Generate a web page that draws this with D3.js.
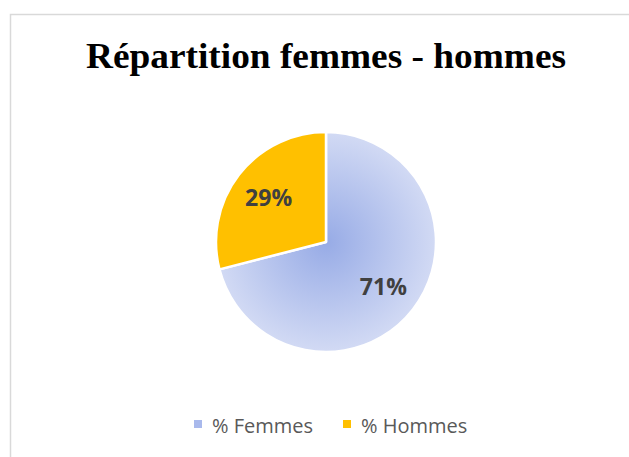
<!DOCTYPE html>
<html>
<head>
<meta charset="utf-8">
<script src="https://cdn.jsdelivr.net/npm/d3@7"></script>
<style>
  body { margin: 0; background: #fff; }
  svg { display: block; }
</style>
</head>
<body>
<div id="chart"></div>
<script>
// données du graphique
const categories = ['% Femmes', '% Hommes'];
const values = [71, 29];
const colors = ['url(#femmesGrad)', '#FFC000'];
const legendColors = ['#a9b9ec', '#FFC000'];
const title = 'Répartition femmes - hommes';

const width = 629;
const height = 457;
const cx = 326, cy = 242;
const radius = 110;

const svg = d3.select('#chart')
  .append('svg')
  .attr('width', width)
  .attr('height', height);

// dégradé radial pour la part femmes
const defs = svg.append('defs');
const grad = defs.append('radialGradient')
  .attr('id', 'femmesGrad')
  .attr('gradientUnits', 'userSpaceOnUse')
  .attr('cx', 0).attr('cy', 0).attr('r', radius);
grad.append('stop').attr('offset', '0%').attr('stop-color', '#97abe6');
grad.append('stop').attr('offset', '100%').attr('stop-color', '#d2daf4');

// cadre
svg.append('rect')
  .attr('x', 10.5).attr('y', 14.5)
  .attr('width', 640).attr('height', 460)
  .attr('fill', '#fff')
  .attr('stroke', '#d9d9d9')
  .attr('stroke-width', 1.5);

svg.append('text')
  .attr('x', cx)
  .attr('y', 68)
  .attr('text-anchor', 'middle')
  .attr('font-family', '"Liberation Serif", "Times New Roman", serif')
  .attr('font-weight', 'bold')
  .attr('font-size', '36px')
  .attr('textLength', 480)
  .attr('lengthAdjust', 'spacingAndGlyphs')
  .attr('fill', '#000')
  .text(title);

const data = categories.map((c, i) => ({ name: c, value: values[i], color: colors[i] }));

const pie = d3.pie()
  .sort(null)
  .value(d => d.value);

const arc = d3.arc()
  .innerRadius(0)
  .outerRadius(radius);

const labelArc = d3.arc()
  .innerRadius(radius * 0.66)
  .outerRadius(radius * 0.66);

const g = svg.append('g')
  .attr('transform', `translate(${cx},${cy})`);

const arcs = g.selectAll('.arc')
  .data(pie(data))
  .enter()
  .append('g')
  .attr('class', 'arc');

arcs.append('path')
  .attr('d', arc)
  .attr('fill', d => d.data.color)
  .attr('stroke', '#fff')
  .attr('stroke-width', 2.5)
  .attr('stroke-linejoin', 'round');

arcs.append('text')
  .attr('transform', d => `translate(${labelArc.centroid(d)})`)
  .attr('dy', '.35em')
  .attr('text-anchor', 'middle')
  .attr('font-family', '"Open Sans", "Noto Sans", sans-serif')
  .attr('font-weight', 'bold')
  .attr('font-size', '23px')
  .attr('fill', '#404040')
  .text(d => d.data.value + '%');

// légende
const legendX = [194, 343];
const legend = svg.selectAll('.legend')
  .data(categories)
  .enter()
  .append('g')
  .attr('class', 'legend')
  .attr('transform', (d, i) => `translate(${legendX[i]},424)`);

legend.append('rect')
  .attr('x', 0).attr('y', -4)
  .attr('width', 8).attr('height', 8)
  .attr('fill', (d, i) => legendColors[i]);

legend.append('text')
  .attr('x', 18)
  .attr('y', 9)
  .attr('font-family', '"Open Sans", "Noto Sans", sans-serif')
  .attr('font-size', '20px')
  .attr('fill', '#595959')
  .text(d => d);
</script>
</body>
</html>
